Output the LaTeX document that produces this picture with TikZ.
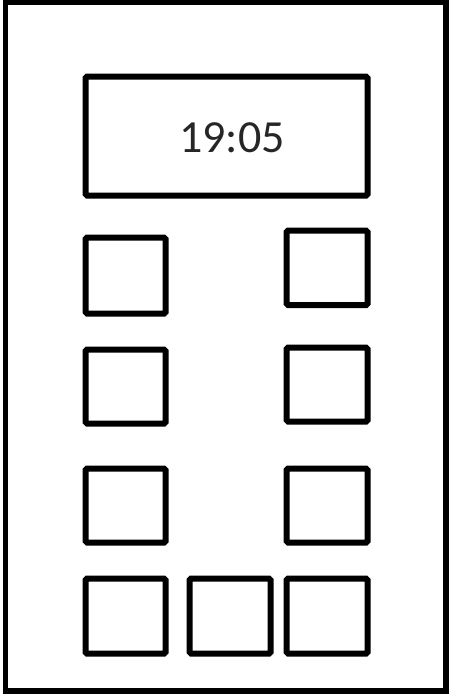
\documentclass[tikz,border=0pt]{standalone}
\usepackage{fontspec}
\setmainfont{Carlito}
\begin{document}
\begin{tikzpicture}[x=1pt,y=-1pt,
  btn/.style={draw=black,line width=6pt,rounded corners=1.5pt,inner sep=0pt,outer sep=0pt},
]
\useasboundingbox (0,0) rectangle (448,697);
\node[draw=black,line width=5.5pt,inner sep=0pt,outer sep=0pt,minimum width=440.5pt,minimum height=689pt] (case) at (225.5,346.5) {};
\node[btn,minimum width=282pt,minimum height=119pt] (display) at (226.5,136) {};
\node[font=\fontsize{46}{52}\selectfont,text=black!85] (time) at (232,138) {19:05};
\node[btn,minimum width=80pt,minimum height=76pt] (l1) at (125.5,275.5) {};
\node[btn,minimum width=81pt,minimum height=74.5pt] (r1) at (327,267.75) {};
\node[btn,minimum width=80pt,minimum height=74pt] (l2) at (125.5,386.5) {};
\node[btn,minimum width=81pt,minimum height=74pt] (r2) at (327,384.5) {};
\node[btn,minimum width=80pt,minimum height=74pt] (l3) at (125.5,505.5) {};
\node[btn,minimum width=81pt,minimum height=74pt] (r3) at (327,505.5) {};
\node[btn,minimum width=80pt,minimum height=75pt] (b1) at (125.5,616) {};
\node[btn,minimum width=81pt,minimum height=75pt] (b2) at (230,616) {};
\node[btn,minimum width=81pt,minimum height=75pt] (b3) at (327,616) {};
\end{tikzpicture}
\end{document}
